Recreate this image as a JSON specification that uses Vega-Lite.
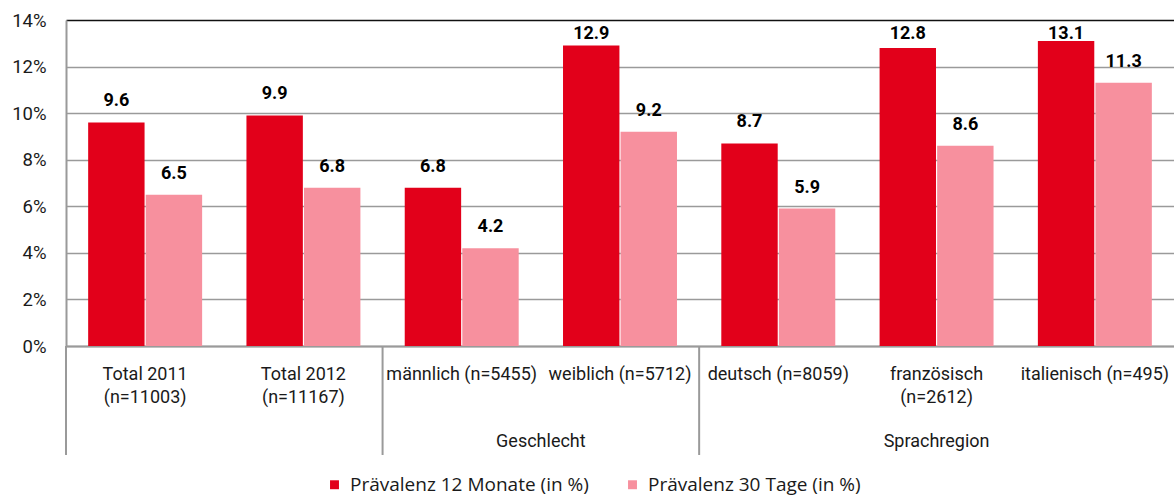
{
  "$schema": "https://vega.github.io/schema/vega-lite/v6.json",
  "autosize": {"type": "none"},
  "padding": {"left": 66, "top": 20, "right": 0, "bottom": 150},
  "width": 1108,
  "height": 326,
  "background": "white",
  "config": {
    "view": {"stroke": null},
    "font": "Roboto"
  },
  "datasets": {
    "bars": [
      {"cat": "Total 2011|(n=11003)", "series": "Prävalenz 12 Monate (in %)", "value": 9.6},
      {"cat": "Total 2011|(n=11003)", "series": "Prävalenz 30 Tage (in %)", "value": 6.5},
      {"cat": "Total 2012|(n=11167)", "series": "Prävalenz 12 Monate (in %)", "value": 9.9},
      {"cat": "Total 2012|(n=11167)", "series": "Prävalenz 30 Tage (in %)", "value": 6.8},
      {"cat": "männlich (n=5455)", "series": "Prävalenz 12 Monate (in %)", "value": 6.8},
      {"cat": "männlich (n=5455)", "series": "Prävalenz 30 Tage (in %)", "value": 4.2},
      {"cat": "weiblich (n=5712)", "series": "Prävalenz 12 Monate (in %)", "value": 12.9},
      {"cat": "weiblich (n=5712)", "series": "Prävalenz 30 Tage (in %)", "value": 9.2},
      {"cat": "deutsch (n=8059)", "series": "Prävalenz 12 Monate (in %)", "value": 8.7},
      {"cat": "deutsch (n=8059)", "series": "Prävalenz 30 Tage (in %)", "value": 5.9},
      {"cat": "französisch|(n=2612)", "series": "Prävalenz 12 Monate (in %)", "value": 12.8},
      {"cat": "französisch|(n=2612)", "series": "Prävalenz 30 Tage (in %)", "value": 8.6},
      {"cat": "italienisch (n=495)", "series": "Prävalenz 12 Monate (in %)", "value": 13.1},
      {"cat": "italienisch (n=495)", "series": "Prävalenz 30 Tage (in %)", "value": 11.3}
    ],
    "separators": [
      {"cat": "Total 2011|(n=11003)"},
      {"cat": "männlich (n=5455)"},
      {"cat": "deutsch (n=8059)"}
    ],
    "groups1": [
      {"cat": "weiblich (n=5712)", "group": "Geschlecht"}
    ],
    "groups2": [
      {"cat": "französisch|(n=2612)", "group": "Sprachregion"}
    ]
  },
  "encoding": {
    "x": {
      "field": "cat",
      "type": "nominal",
      "scale": {
        "domain": ["Total 2011|(n=11003)", "Total 2012|(n=11167)", "männlich (n=5455)", "weiblich (n=5712)", "deutsch (n=8059)", "französisch|(n=2612)", "italienisch (n=495)"],
        "paddingInner": 0.28,
        "paddingOuter": 0.14
      },
      "axis": {
        "title": null,
        "labelAngle": 0,
        "labelExpr": "split(datum.label, '|')",
        "labelFont": "Roboto",
        "labelFontSize": 18,
        "labelLineHeight": 23,
        "labelColor": "#1a1a1a",
        "labelPadding": 19,
        "labelLimit": 300,
        "ticks": false,
        "domainColor": "#9a9a9a",
        "domainWidth": 2,
        "grid": false
      }
    }
  },
  "layer": [
    {
      "data": {"name": "bars"},
      "mark": {"type": "bar"},
      "encoding": {
        "xOffset": {"field": "series", "type": "nominal", "scale": {"paddingInner": 0.02}},
        "y": {
          "field": "value",
          "type": "quantitative",
          "scale": {"domain": [0, 14], "nice": false},
          "axis": {
            "title": null,
            "values": [0, 2, 4, 6, 8, 10, 12, 14],
            "labelExpr": "datum.value + '%'",
            "labelFont": "Roboto",
            "labelFontSize": 18.5,
            "labelColor": "#1a1a1a",
            "labelPadding": 20,
            "ticks": false,
            "domainColor": "#9a9a9a",
            "domainWidth": 2,
            "gridColor": {"condition": {"test": "datum.value === 14", "value": "#111111"}, "value": "#9a9a9a"},
            "gridWidth": 1.6
          }
        },
        "color": {
          "field": "series",
          "type": "nominal",
          "scale": {"domain": ["Prävalenz 12 Monate (in %)", "Prävalenz 30 Tage (in %)"], "range": ["#E2001A", "#F7909E"]},
          "legend": {
            "title": null,
            "orient": "none",
            "legendX": 259,
            "legendY": 455,
            "padding": 0,
            "direction": "horizontal",
            "symbolType": "square",
            "symbolSize": 80,
            "symbolStrokeWidth": 0,
            "labelFont": "Open Sans",
            "labelFontSize": 19,
            "labelColor": "#1a1a1a",
            "labelOffset": 6,
            "columnPadding": 34,
            "labelLimit": 400
          }
        }
      }
    },
    {
      "data": {"name": "bars"},
      "transform": [{"filter": "datum.value < 12.5"}],
      "mark": {"type": "text", "baseline": "alphabetic", "dy": -16, "font": "Roboto", "fontSize": 18, "fontWeight": "bold", "color": "#000000"},
      "encoding": {
        "xOffset": {"field": "series", "type": "nominal", "scale": {"paddingInner": 0.02}},
        "y": {"field": "value", "type": "quantitative"},
        "text": {"field": "value", "type": "quantitative", "format": ".1f"}
      }
    },
    {
      "data": {"name": "bars"},
      "transform": [{"filter": "datum.value >= 12.5"}],
      "mark": {"type": "text", "baseline": "alphabetic", "font": "Roboto", "fontSize": 18, "fontWeight": "bold", "color": "#000000"},
      "encoding": {
        "xOffset": {"field": "series", "type": "nominal", "scale": {"paddingInner": 0.02}},
        "y": {"datum": 13.2},
        "text": {"field": "value", "type": "quantitative", "format": ".1f"}
      }
    },
    {
      "data": {"name": "separators"},
      "mark": {"type": "rule", "color": "#9a9a9a", "strokeWidth": 2},
      "encoding": {
        "x": {"field": "cat", "type": "nominal", "bandPosition": -0.1944},
        "y": {"datum": 0},
        "y2": {"datum": -4.68}
      }
    },
    {
      "data": {"name": "groups1"},
      "mark": {"type": "text", "baseline": "alphabetic", "font": "Roboto", "fontSize": 18, "color": "#1a1a1a"},
      "encoding": {
        "x": {"field": "cat", "type": "nominal", "bandPosition": -0.1944},
        "y": {"datum": -4.34},
        "text": {"field": "group"}
      }
    },
    {
      "data": {"name": "groups2"},
      "mark": {"type": "text", "baseline": "alphabetic", "font": "Roboto", "fontSize": 18, "color": "#1a1a1a"},
      "encoding": {
        "x": {"field": "cat", "type": "nominal", "bandPosition": 0.5},
        "y": {"datum": -4.34},
        "text": {"field": "group"}
      }
    }
  ]
}
